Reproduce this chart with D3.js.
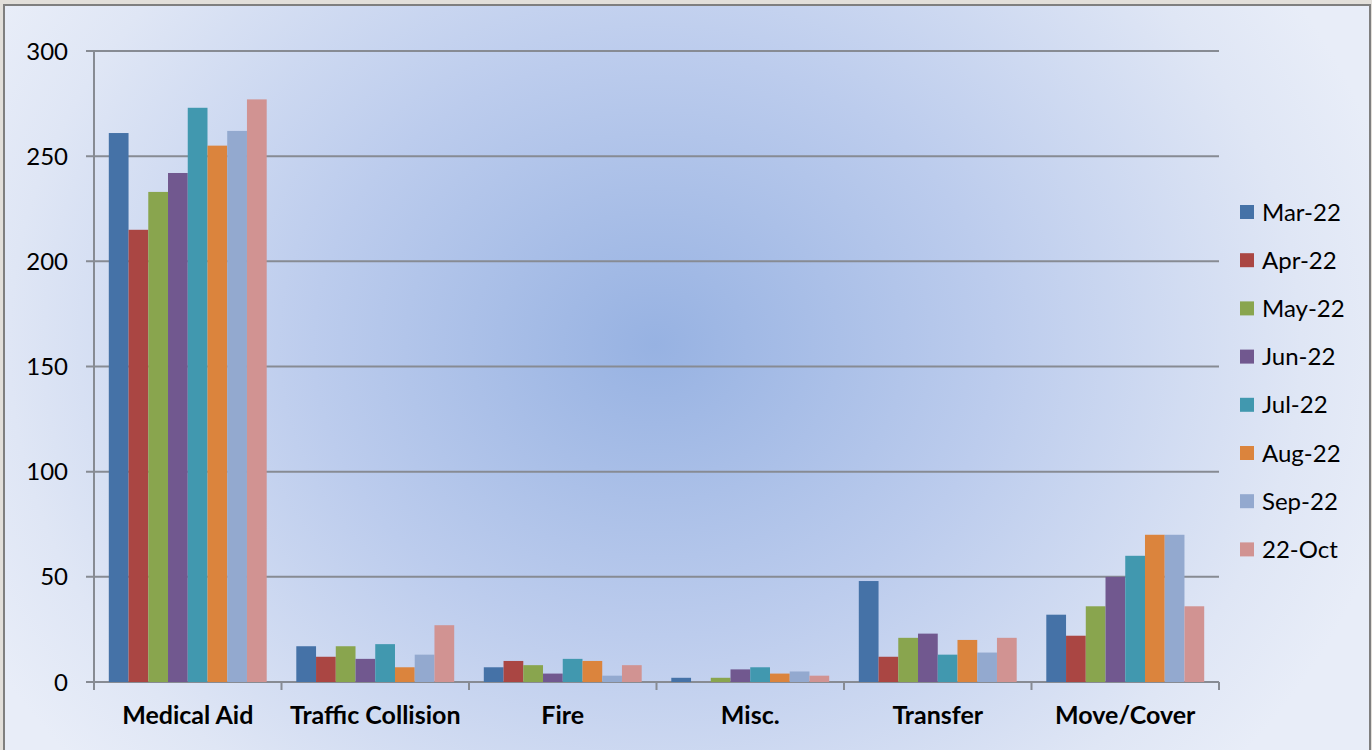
<!DOCTYPE html>
<html>
<head>
<meta charset="utf-8">
<script src="https://cdn.jsdelivr.net/npm/d3@7"></script>
<style>
html,body{margin:0;padding:0;background:#e2dfda;}
svg{display:block;}
text{font-family:Lato,"Open Sans",sans-serif;fill:#000;}
</style>
</head>
<body>
<svg id="chart" width="1372" height="750"></svg>
<script>
const categories = ["Medical Aid", "Traffic Collision", "Fire", "Misc.", "Transfer", "Move/Cover"];
const seriesNames = ["Mar-22", "Apr-22", "May-22", "Jun-22", "Jul-22", "Aug-22", "Sep-22", "22-Oct"];
const mar22 = [261, 17, 7, 2, 48, 32];
const apr22 = [215, 12, 10, 0, 12, 22];
const may22 = [233, 17, 8, 2, 21, 36];
const jun22 = [242, 11, 4, 6, 23, 50];
const jul22 = [273, 18, 11, 7, 13, 60];
const aug22 = [255, 7, 10, 4, 20, 70];
const sep22 = [262, 13, 3, 5, 14, 70];
const oct22 = [277, 27, 8, 3, 21, 36];
const yTicks = [0, 50, 100, 150, 200, 250, 300];
const colors = ["#4572A7", "#AA4643", "#89A54E", "#71588F", "#4198AF", "#DB843D", "#93A9CF", "#D19392"];

const seriesValues = [mar22, apr22, may22, jun22, jul22, aug22, sep22, oct22];

const svg = d3.select("#chart");
const defs = svg.append("defs");
const grad = defs.append("radialGradient").attr("id", "bg")
  .attr("gradientUnits", "userSpaceOnUse")
  .attr("cx", 655).attr("cy", 345).attr("r", 760)
  .attr("gradientTransform", "translate(655,345) scale(1,0.85) translate(-655,-345)");
grad.append("stop").attr("offset", 0).attr("stop-color", "#97b2e2");
grad.append("stop").attr("offset", 0.45).attr("stop-color", "#bccced");
grad.append("stop").attr("offset", 0.85).attr("stop-color", "#dfe6f5");
grad.append("stop").attr("offset", 1).attr("stop-color", "#e8edf8");

// frame
svg.append("rect").attr("x", 4).attr("y", 5).attr("width", 1366).attr("height", 760)
  .attr("fill", "url(#bg)").attr("stroke", "#7f7f7f").attr("stroke-width", 2);

const plotLeft = 94, plotRight = 1219, plotTop = 51, plotBottom = 682;
const x0 = d3.scaleBand().domain(categories).range([plotLeft, plotRight]).paddingInner(0).paddingOuter(0);
const x1 = d3.scaleBand().domain(seriesNames).range([0, x0.bandwidth()]).paddingInner(0).paddingOuter(0.75);
const y = d3.scaleLinear().domain([0, 300]).range([plotBottom, plotTop]);

// gridlines
svg.append("g").selectAll("line").data(yTicks).join("line")
  .attr("x1", plotLeft - 8).attr("x2", plotRight)
  .attr("y1", d => y(d)).attr("y2", d => y(d))
  .attr("stroke", "#878b93").attr("stroke-width", 2);

// y axis line
svg.append("line").attr("x1", plotLeft).attr("x2", plotLeft).attr("y1", plotTop).attr("y2", plotBottom + 1)
  .attr("stroke", "#878b93").attr("stroke-width", 2);

// x tick marks at boundaries
const bounds = categories.map(c => x0(c)).concat([plotRight]);
svg.append("g").selectAll("line").data(bounds).join("line")
  .attr("x1", d => d).attr("x2", d => d)
  .attr("y1", plotBottom).attr("y2", plotBottom + 8)
  .attr("stroke", "#878b93").attr("stroke-width", 2);

// bars
const groups = svg.append("g").selectAll("g").data(categories).join("g")
  .attr("transform", c => `translate(${x0(c)},0)`);
groups.selectAll("rect")
  .data((c, i) => seriesNames.map((s, j) => ({ s, j, v: seriesValues[j][i] })))
  .join("rect")
  .attr("x", d => x1(d.s))
  .attr("width", x1.bandwidth())
  .attr("y", d => y(d.v))
  .attr("height", d => plotBottom - y(d.v))
  .attr("fill", d => colors[d.j]);

// y labels
svg.append("g").selectAll("text").data(yTicks).join("text")
  .attr("x", 68).attr("y", d => y(d))
  .attr("dy", "0.36em")
  .attr("text-anchor", "end")
  .style("font-size", "24px")
  .text(d => d);

// x labels
svg.append("g").selectAll("text").data(categories).join("text")
  .attr("x", c => x0(c) + x0.bandwidth() / 2)
  .attr("y", 724)
  .attr("text-anchor", "middle")
  .style("font-size", "25px").style("font-weight", "bold")
  .text(c => c);

// legend
const legend = svg.append("g").selectAll("g").data(seriesNames).join("g")
  .attr("transform", (s, i) => `translate(1240, ${212 + i * 48.2})`);
legend.append("rect").attr("x", 0).attr("y", -7).attr("width", 14).attr("height", 14)
  .attr("fill", (s, i) => colors[i]);
legend.append("text").attr("x", 22).attr("y", 0).attr("dy", "0.36em")
  .style("font-size", "24px").text(s => s);
</script>
</body>
</html>
